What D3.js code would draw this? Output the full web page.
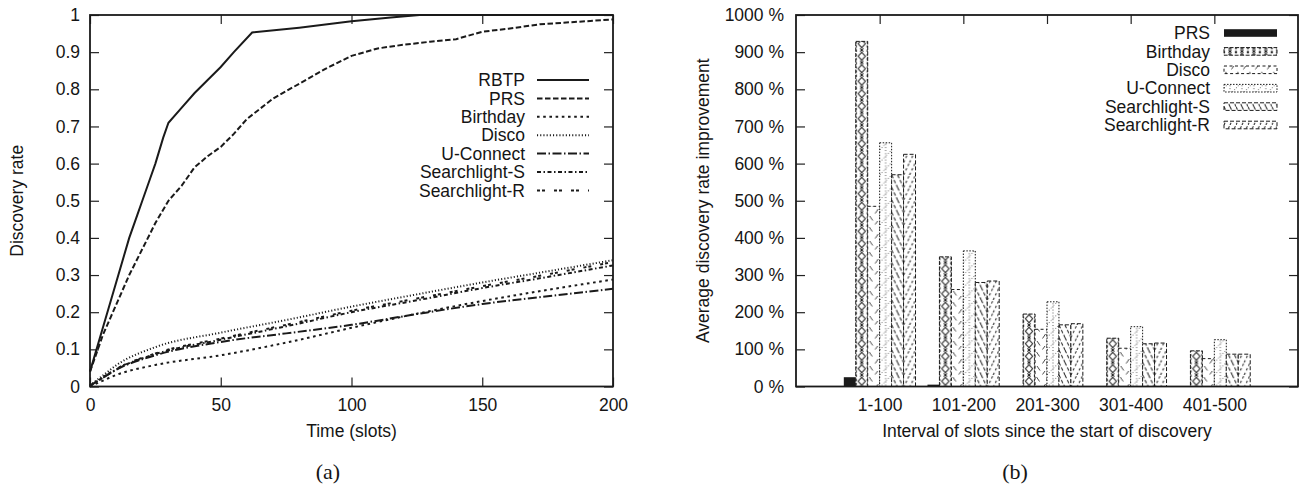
<!DOCTYPE html>
<html>
<head>
<meta charset="utf-8">
<script src="https://cdn.jsdelivr.net/npm/d3@7"></script>
<style>
body { margin: 0; background: #fff; }
svg { display: block; font-family: "Liberation Sans", Arial, Helvetica, sans-serif; }
.tick text { font-size: 17.5px; fill: #151515; font-family: "Liberation Sans", Arial, Helvetica, sans-serif; }
.tick line { stroke: #222; stroke-width: 1.2; }
</style>
</head>
<body>
<svg id="chart" width="1308" height="486"></svg>
<script>
// ---- data ----
// (a) discovery rate over time
var rbtpT = [0, 5, 10, 15, 18, 20, 23, 25, 28, 30, 35, 40, 45, 50, 55, 62, 80, 100, 115, 126, 200];
var rbtpV = [0.04, 0.16, 0.28, 0.40, 0.46, 0.50, 0.56, 0.60, 0.67, 0.71, 0.75, 0.79, 0.825, 0.86, 0.90, 0.953, 0.966, 0.983, 0.993, 1.0, 1.0];
var prsT = [0, 5, 10, 15, 20, 25, 30, 35, 40, 45, 50, 55, 60, 70, 80, 90, 100, 110, 120, 130, 140, 150, 160, 172, 200];
var prsV = [0.04, 0.14, 0.22, 0.30, 0.37, 0.44, 0.50, 0.54, 0.59, 0.62, 0.645, 0.68, 0.72, 0.775, 0.815, 0.855, 0.89, 0.91, 0.92, 0.928, 0.935, 0.955, 0.963, 0.975, 0.988];
var lowT = [0, 5, 10, 25, 50, 75, 100, 125, 150, 175, 200];
var birthdayV = [0, 0.016, 0.031, 0.058, 0.084, 0.118, 0.158, 0.196, 0.23, 0.26, 0.288];
var discoV = [0.003, 0.03, 0.057, 0.106, 0.145, 0.179, 0.215, 0.248, 0.28, 0.31, 0.34];
var uconnectV = [0.002, 0.024, 0.045, 0.084, 0.12, 0.143, 0.166, 0.195, 0.222, 0.243, 0.263];
var slightSV = [0.002, 0.024, 0.046, 0.087, 0.126, 0.162, 0.2, 0.232, 0.265, 0.295, 0.326];
var slightRV = [0.002, 0.025, 0.047, 0.089, 0.129, 0.166, 0.204, 0.237, 0.27, 0.302, 0.335];
var yTicksA = d3.range(0, 11).map(function (i) { return i / 10; });
var xTicksA = [0, 50, 100, 150, 200];

// (b) average improvement per interval (%)
var intervals = ["1-100", "101-200", "201-300", "301-400", "401-500"];
var prsB = [25, 5, 0, 0, 0];
var birthdayB = [929, 349, 195, 130, 96];
var discoB = [485, 261, 154, 103, 75];
var uconnectB = [656, 365, 228, 161, 126];
var slightSB = [570, 280, 166, 115, 87];
var slightRB = [625, 284, 169, 117, 87];
var yTicksB = d3.range(0, 1001, 100);

var svg = d3.select("#chart");
var defs = svg.append("defs");
var ink = "#1a1a1a";
var txt = "#151515";
var fs = 17.5;
var sans = "'Liberation Sans', Arial, Helvetica, sans-serif";

function cleanAxis(g) {
    g.select(".domain").remove();
    g.attr("font-family", sans).attr("font-size", fs);
}

// ================= (a) line chart =================
var xA = d3.scaleLinear().domain([0, 200]).range([90, 613]);
var yA = d3.scaleLinear().domain([0, 1]).range([386.5, 15]);

var gA = svg.append("g");

gA.append("g").attr("transform", "translate(0," + yA(0) + ")")
    .call(d3.axisBottom(xA).tickValues(xTicksA).tickSize(-9).tickSizeOuter(0).tickPadding(12.5))
    .call(cleanAxis);
gA.append("g").attr("transform", "translate(0," + yA(1) + ")")
    .call(d3.axisTop(xA).tickValues(xTicksA).tickSize(-9).tickSizeOuter(0).tickFormat(""))
    .call(cleanAxis);
gA.append("g").attr("transform", "translate(" + xA(0) + ",0)")
    .call(d3.axisLeft(yA).tickValues(yTicksA).tickSize(-9).tickSizeOuter(0).tickPadding(10).tickFormat(d3.format("~g")))
    .call(cleanAxis);
gA.append("g").attr("transform", "translate(" + xA(200) + ",0)")
    .call(d3.axisRight(yA).tickValues(yTicksA).tickSize(-9).tickSizeOuter(0).tickFormat(""))
    .call(cleanAxis);

var linesA = [
    { name: "RBTP", t: rbtpT, v: rbtpV, dash: null, curve: d3.curveLinear },
    { name: "PRS", t: prsT, v: prsV, dash: "5.5,2.5", curve: d3.curveLinear },
    { name: "Birthday", t: lowT, v: birthdayV, dash: "2.6,3.6", curve: d3.curveMonotoneX },
    { name: "Disco", t: lowT, v: discoV, dash: "1.1,2.1", curve: d3.curveMonotoneX },
    { name: "U-Connect", t: lowT, v: uconnectV, dash: "9,2.5,1.5,2.5", curve: d3.curveMonotoneX },
    { name: "Searchlight-S", t: lowT, v: slightSV, dash: "4,2.5,1.5,2.5", curve: d3.curveMonotoneX },
    { name: "Searchlight-R", t: lowT, v: slightRV, dash: "3,2,3,9", curve: d3.curveMonotoneX }
];

gA.selectAll(".series").data(linesA).enter().append("path")
    .attr("class", "series")
    .attr("d", function (s) {
        return d3.line()
            .x(function (d) { return xA(d[0]); })
            .y(function (d) { return yA(d[1]); })
            .curve(s.curve)(d3.zip(s.t, s.v));
    })
    .attr("fill", "none")
    .attr("stroke", ink)
    .attr("stroke-width", 2)
    .attr("stroke-dasharray", function (s) { return s.dash; });

var legA = gA.selectAll(".legA").data(linesA).enter().append("g")
    .attr("class", "legA")
    .attr("transform", function (d, i) { return "translate(0," + (80 + i * 18.4) + ")"; });
legA.append("text")
    .attr("x", 525).attr("dy", "0.35em")
    .attr("text-anchor", "end").attr("font-size", fs).attr("fill", txt)
    .text(function (d) { return d.name; });
legA.append("line")
    .attr("x1", 537).attr("x2", 589)
    .attr("stroke", ink).attr("stroke-width", 2)
    .attr("stroke-dasharray", function (d) { return d.dash; });

gA.append("rect")
    .attr("x", xA(0)).attr("y", yA(1))
    .attr("width", xA(200) - xA(0)).attr("height", yA(0) - yA(1))
    .attr("fill", "none").attr("stroke", ink).attr("stroke-width", 1.8);

gA.append("text")
    .attr("transform", "translate(17," + ((yA(0) + yA(1)) / 2) + ") rotate(-90)")
    .attr("text-anchor", "middle").attr("dy", "0.35em")
    .attr("font-size", fs).attr("fill", txt)
    .text("Discovery rate");
gA.append("text")
    .attr("x", (xA(0) + xA(200)) / 2).attr("y", 437)
    .attr("text-anchor", "middle").attr("font-size", fs).attr("fill", txt)
    .text("Time (slots)");
gA.append("text")
    .attr("x", 328).attr("y", 479)
    .attr("text-anchor", "middle")
    .attr("font-family", "'Liberation Serif', 'Times New Roman', serif")
    .attr("font-size", 22).attr("fill", txt)
    .text("(a)");

// ================= (b) bar chart =================
var xB = d3.scaleLinear().domain([0, 6]).range([796, 1298]);
var yB = d3.scaleLinear().domain([0, 1000]).range([386.5, 15]);
var barW = 1 / 7;

var gB = svg.append("g");

gB.append("g").attr("transform", "translate(0," + yB(0) + ")")
    .call(d3.axisBottom(xB).tickValues([1, 2, 3, 4, 5]).tickSize(-9).tickSizeOuter(0).tickPadding(12.5)
        .tickFormat(function (d) { return intervals[d - 1]; }))
    .call(cleanAxis);
gB.append("g").attr("transform", "translate(0," + yB(1000) + ")")
    .call(d3.axisTop(xB).tickValues([1, 2, 3, 4, 5]).tickSize(-9).tickSizeOuter(0).tickFormat(""))
    .call(cleanAxis);
gB.append("g").attr("transform", "translate(" + xB(0) + ",0)")
    .call(d3.axisLeft(yB).tickValues(yTicksB).tickSize(-9).tickSizeOuter(0).tickPadding(12)
        .tickFormat(function (d) { return d + " %"; }))
    .call(cleanAxis);
gB.append("g").attr("transform", "translate(" + xB(6) + ",0)")
    .call(d3.axisRight(yB).tickValues(yTicksB).tickSize(-9).tickSizeOuter(0).tickFormat(""))
    .call(cleanAxis);

// fill patterns, one tile is one bar wide
var tileW = xB(barW) - xB(0);
var seriesB = [
    { name: "PRS", vals: prsB, fill: "solid", border: null },
    { name: "Birthday", vals: birthdayB, fill: "birthday", border: "4,1.5" },
    { name: "Disco", vals: discoB, fill: "disco", border: "3,2.5" },
    { name: "U-Connect", vals: uconnectB, fill: "uconnect", border: "1.5,1.5" },
    { name: "Searchlight-S", vals: slightSB, fill: "slights", border: "4,2" },
    { name: "Searchlight-R", vals: slightRB, fill: "slightr", border: "4,2" }
];

function makePattern(id, kind, x0) {
    var p = defs.append("pattern")
        .attr("id", id)
        .attr("patternUnits", "userSpaceOnUse")
        .attr("x", x0).attr("y", 0)
        .attr("width", tileW).attr("height", 12.5);
    p.append("rect").attr("width", tileW).attr("height", 12.5).attr("fill", "#fff");
    var w = tileW, c = w / 2;
    if (kind === "birthday") {
        p.append("path")
            .attr("d", "M" + c + ",2.2L" + (c + 3.6) + ",6.25L" + c + ",10.3L" + (c - 3.6) + ",6.25Z")
            .attr("fill", "none").attr("stroke", ink).attr("stroke-width", 1);
        p.append("path")
            .attr("d", "M" + (c - 1.6) + ",-1.6L" + (c + 1.6) + ",1.6M" + (c + 1.6) + ",-1.6L" + (c - 1.6) + ",1.6" +
                "M" + (c - 1.6) + ",10.9L" + (c + 1.6) + ",14.1M" + (c + 1.6) + ",10.9L" + (c - 1.6) + ",14.1")
            .attr("stroke", ink).attr("stroke-width", 1);
        p.append("path").attr("d", "M0.6,0V12.5M" + (w - 0.6) + ",0V12.5")
            .attr("stroke", ink).attr("stroke-width", 1).attr("stroke-dasharray", "2,2");
    } else if (kind === "disco") {
        p.attr("height", 25);
        p.select("rect").attr("height", 25);
        p.append("path")
            .attr("d", "M1.5,2L4.5,6.5M10.5,9L7.5,13.5M2,16L5,20.5M" + (w - 2) + ",21L" + (w - 4.5) + ",24.5")
            .attr("stroke", "#333").attr("stroke-width", 0.9);
    } else if (kind === "uconnect") {
        p.append("path")
            .attr("d", "M0,12.5L" + w + ",0")
            .attr("stroke", "#333").attr("stroke-width", 0.9).attr("stroke-dasharray", "1,2");
        p.append("path")
            .attr("d", "M" + c + ",0V12.5")
            .attr("stroke", "#333").attr("stroke-width", 0.8).attr("stroke-dasharray", "1,2.2");
    } else if (kind === "slights") {
        p.append("path")
            .attr("d", "M0,0L" + c + ",12.5M" + c + ",0L" + w + ",12.5")
            .attr("stroke", ink).attr("stroke-width", 1).attr("stroke-dasharray", "3.5,2");
    } else if (kind === "slightr") {
        p.append("path")
            .attr("d", "M0,12.5L" + c + ",0M" + c + ",12.5L" + w + ",0")
            .attr("stroke", ink).attr("stroke-width", 1).attr("stroke-dasharray", "2.5,2.5");
    }
    return "url(#" + id + ")";
}

function fillFor(s, si, gi, x0) {
    if (s.fill === "solid") return ink;
    return makePattern("pat-" + si + "-" + gi, s.fill, x0);
}

seriesB.forEach(function (s, si) {
    var bars = gB.selectAll(".bar-" + si).data(s.vals).enter().append("rect")
        .attr("class", "bar-" + si)
        .attr("x", function (d, gi) { return xB(gi + 1 - 3 * barW + si * barW); })
        .attr("width", tileW)
        .attr("y", function (d) { return yB(d); })
        .attr("height", function (d) { return yB(0) - yB(d); })
        .attr("fill", function (d, gi) { return fillFor(s, si, gi, xB(gi + 1 - 3 * barW + si * barW)); })
        .attr("stroke", s.fill === "solid" ? "none" : ink)
        .attr("stroke-width", 1)
        .attr("stroke-dasharray", s.border);
    bars.filter(function (d) { return d <= 0; }).remove();
});

var legB = gB.selectAll(".legB").data(seriesB).enter().append("g")
    .attr("class", "legB")
    .attr("transform", function (d, i) { return "translate(0," + (33 + i * 18.4) + ")"; });
legB.append("text")
    .attr("x", 1210).attr("dy", "0.35em")
    .attr("text-anchor", "end").attr("font-size", fs).attr("fill", txt)
    .text(function (d) { return d.name; });
legB.append("rect")
    .attr("x", 1224).attr("y", -3.8).attr("width", 53).attr("height", 7.6)
    .attr("fill", function (d, i) { return d.fill === "solid" ? ink : makePattern("leg-" + i, d.fill, 1224); })
    .attr("stroke", function (d) { return d.fill === "solid" ? "none" : ink; })
    .attr("stroke-width", 1)
    .attr("stroke-dasharray", function (d) { return d.border; });

gB.append("rect")
    .attr("x", xB(0)).attr("y", yB(1000))
    .attr("width", xB(6) - xB(0)).attr("height", yB(0) - yB(1000))
    .attr("fill", "none").attr("stroke", ink).attr("stroke-width", 1.8);

gB.append("text")
    .attr("transform", "translate(703," + ((yB(0) + yB(1000)) / 2) + ") rotate(-90)")
    .attr("text-anchor", "middle").attr("dy", "0.35em")
    .attr("font-size", fs).attr("fill", txt)
    .text("Average discovery rate improvement");
gB.append("text")
    .attr("x", (xB(0) + xB(6)) / 2).attr("y", 437)
    .attr("text-anchor", "middle").attr("font-size", fs).attr("fill", txt)
    .text("Interval of slots since the start of discovery");
gB.append("text")
    .attr("x", 1015).attr("y", 479)
    .attr("text-anchor", "middle")
    .attr("font-family", "'Liberation Serif', 'Times New Roman', serif")
    .attr("font-size", 22).attr("fill", txt)
    .text("(b)");
</script>
</body>
</html>
